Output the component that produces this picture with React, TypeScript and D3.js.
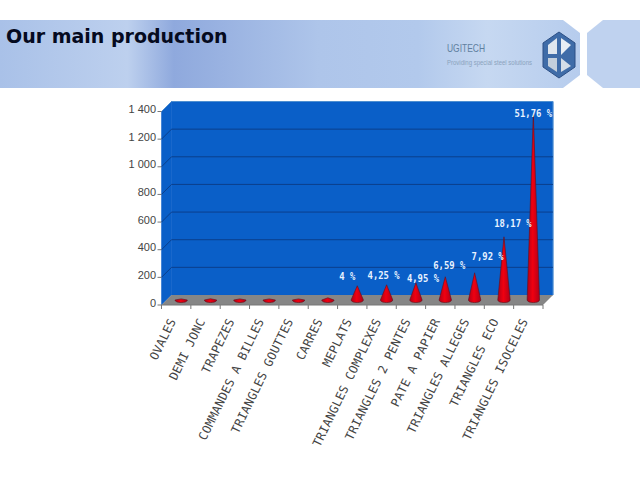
import React from 'react';
import { scaleBand, scaleLinear, path as d3path } from 'd3';

const categories = [
  'OVALES', 'DEMI JONC', 'TRAPEZES', 'COMMANDES A BILLES', 'TRIANGLES GOUTTES', 'CARRES', 'MEPLATS',
  'TRIANGLES COMPLEXES', 'TRIANGLES 2 PENTES', 'PATE A PAPIER', 'TRIANGLES ALLEGES', 'TRIANGLES ECO', 'TRIANGLES ISOCELES'
];
const values = [8, 9, 8, 8, 8, 16, 103, 110, 124, 168, 197, 457, 1350];
const percentLabels = ['', '', '', '', '', '', '4 %', '4,25 %', '4,95 %', '6,59 %', '7,92 %', '18,17 %', '51,76 %'];
const tickValues = [0, 200, 400, 600, 800, 1000, 1200, 1400];
const tickLabels = ['0', '200', '400', '600', '800', '1 000', '1 200', '1 400'];

// labels were dragged by hand in the original, so each one has its own nudge
const labelDx = [0, 0, 0, 0, 0, 0, -10, -3, 7, 4, 13, 9, 0];
const labelDy = [0, 0, 0, 0, 0, 0, -10, -10, -5, -12, -17, -14, 0];

const frontLeft = 161.5;
const frontRight = 543;
const depth = 10;
const frontBottom = 305;
const frontTop = 111.5;

const x = scaleBand().domain(categories).range([frontLeft, frontRight]);
const yFront = scaleLinear().domain([0, 1400]).range([frontBottom, frontTop]);
const yBack = (v: number) => yFront(v) - depth;
const yMid = (v: number) => yFront(v) - depth / 2;

const conePath = (cx: number, v: number) => {
  const base = yMid(0);
  const rx = 6.2;
  const ry = 2.6;
  const p = d3path();
  p.moveTo(cx, yMid(v));
  p.lineTo(cx + rx, base);
  p.bezierCurveTo(cx + rx, base + ry * 1.3, cx - rx, base + ry * 1.3, cx - rx, base);
  p.closePath();
  return p.toString();
};

const bandStops = [
  [0, '#a9c1e8'], [0.22, '#bdd0ee'], [0.3, '#8fa9dd'], [0.55, '#aec5ea'],
  [0.72, '#b2c9ec'], [0.84, '#c6d8f1'], [1, '#b6cced']
];

export default function App() {
  return (
    <svg width={640} height={480} style={{ position: 'absolute', left: 0, top: 0, background: '#fff' }}>
      <defs>
        <linearGradient id="band">
          {bandStops.map(([o, c]) => <stop key={o} offset={o as number} stopColor={c as string} />)}
        </linearGradient>
        <linearGradient id="cone">
          <stop offset="0" stopColor="#b00018" />
          <stop offset="0.45" stopColor="#f00010" />
          <stop offset="1" stopColor="#b00018" />
        </linearGradient>
      </defs>

      {/* header */}
      <polygon points="0,20 563,20 580,33 580,75 563,88 0,88" fill="url(#band)" />
      <polygon points="603,20 640,20 640,88 603,88 587,75 587,33" fill="#bfd2ef" />
      <text x={6} y={43} fontFamily="DejaVu Sans" fontWeight="bold" fontSize={19} fill="#050a20">Our main production</text>
      <text x={447} y={52} textLength={38} lengthAdjust="spacingAndGlyphs" fontFamily="Liberation Sans" fontSize={11} fill="#5f7f9f">UGITECH</text>
      <text x={447} y={65} textLength={85} lengthAdjust="spacingAndGlyphs" fontFamily="Liberation Sans" fontSize={7} fill="#8aa3bd">Providing special steel solutions</text>
      <polygon points="559,32 575,43 575,67 559,78 543,67 543,43" fill="#3f6ca8" stroke="#2c4f85" strokeWidth={1} />
      <polygon points="548,45 557,38 557,54 548,54" fill="#dfe6ee" />
      <polygon points="561,38 571,45 561,55" fill="#e8eef4" />
      <polygon points="548,58 557,58 557,72 548,66" fill="#c3cfdc" />
      <polygon points="561,58 571,66 561,72" fill="#d5dee8" />

      {/* chart box */}
      <polygon
        points={`${frontLeft},${yFront(1400)} ${frontLeft + depth},${yBack(1400)} ${frontLeft + depth},${yBack(0)} ${frontLeft},${yFront(0)}`}
        fill="#0a5fc8" stroke="#0a5fc8" strokeWidth={0.5}
      />
      <polygon
        points={`${frontLeft + depth},${yBack(1400)} ${frontRight + depth},${yBack(1400)} ${frontRight + depth},${yBack(0)} ${frontLeft + depth},${yBack(0)}`}
        fill="#0a5fc8" stroke="#0a5fc8" strokeWidth={0.5}
      />
      <polygon
        points={`${frontLeft},${yFront(0)} ${frontRight},${yFront(0)} ${frontRight + depth},${yBack(0)} ${frontLeft + depth},${yBack(0)}`}
        fill="#868686"
      />
      <polyline
        points={`${frontLeft},${yFront(1400)} ${frontLeft + depth},${yBack(1400)} ${frontRight + depth},${yBack(1400)} ${frontRight + depth},${yBack(0)}`}
        fill="none" stroke="#4f8fd0" strokeWidth={1}
      />

      {tickValues.slice(1, -1).map(v => (
        <polyline
          key={v}
          points={`${frontLeft},${yFront(v)} ${frontLeft + depth},${yBack(v)} ${frontRight + depth},${yBack(v)}`}
          fill="none" stroke="#0b3f8c" strokeWidth={1}
        />
      ))}

      {/* y axis */}
      {tickValues.map((v, i) => (
        <g key={v}>
          <line x1={frontLeft - 4} x2={frontLeft} y1={yFront(v)} y2={yFront(v)} stroke="#777" />
          <text x={156} y={yFront(v) + 1.5} textAnchor="end" fontFamily="Liberation Sans" fontSize={11} fill="#444">{tickLabels[i]}</text>
        </g>
      ))}

      {/* x axis */}
      <line x1={frontLeft} x2={frontRight} y1={frontBottom} y2={frontBottom} stroke="#777" />
      {categories.map(c => (
        <line key={c} x1={x(c)} x2={x(c)} y1={frontBottom} y2={frontBottom + 4} stroke="#777" />
      ))}
      <line x1={frontRight} x2={frontRight} y1={frontBottom} y2={frontBottom + 4} stroke="#777" />

      {/* cones */}
      {categories.map((c, i) => (
        <path
          key={c}
          d={conePath(x(c)! + x.bandwidth() / 2 + depth / 2, values[i])}
          fill="url(#cone)" stroke="#60101c" strokeWidth={0.6}
        />
      ))}

      {/* percent labels, squeezed so they keep the tall narrow look of the original */}
      {categories.map((c, i) => percentLabels[i] && (
        <text
          key={c}
          x={x(c)! + x.bandwidth() / 2 + depth / 2 + labelDx[i]}
          y={yMid(values[i]) + labelDy[i] + 4}
          textAnchor="middle" fontFamily="DejaVu Sans Mono" fontWeight="bold" fontSize={10.5} fill="#e8f2ff"
          textLength={percentLabels[i].length * 5.35} lengthAdjust="spacingAndGlyphs"
        >{percentLabels[i]}</text>
      ))}

      {/* rotated category labels */}
      {categories.map(c => (
        <text
          key={c}
          transform={`translate(${x(c)! + x.bandwidth() / 2},321) rotate(-64)`}
          textAnchor="end" fontFamily="DejaVu Sans Mono" fontSize={12} letterSpacing={0.2} fill="#444"
        >{c}</text>
      ))}
    </svg>
  );
}
